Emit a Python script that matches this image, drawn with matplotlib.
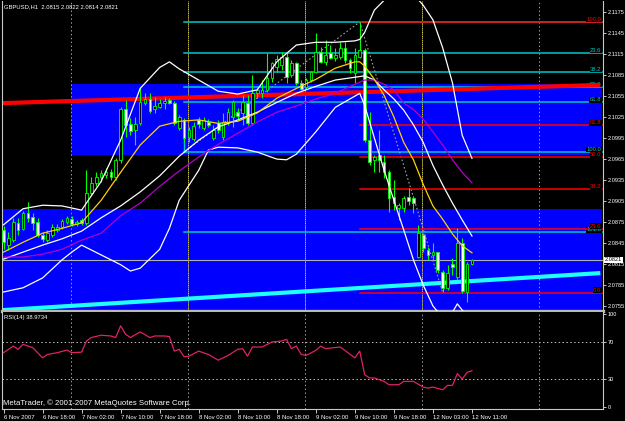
import matplotlib
matplotlib.use('Agg')
import matplotlib.pyplot as plt
import matplotlib.transforms as mtransforms
from matplotlib.patches import Rectangle

plt.rcParams['font.family'] = ['Liberation Sans', 'DejaVu Sans']

# GBPUSD H1 candles, first bar 6 Nov 2007 10:00
opens = [2.0864, 2.0842, 2.0849, 2.0874, 2.0865, 2.0888, 2.0882, 2.0875, 2.0856, 2.0849,
         2.0856, 2.0864, 2.0868, 2.0875, 2.0879, 2.0872, 2.0878, 2.0874, 2.0916, 2.0931,
         2.0939, 2.0942, 2.0946, 2.0939, 2.0964, 2.1036, 2.1015, 2.1006, 2.1016, 2.1045,
         2.1051, 2.1036, 2.1039, 2.1045, 2.1049, 2.1045, 2.1009, 2.1021, 2.0996, 2.0994,
         2.1021, 2.1009, 2.1018, 2.0995, 2.1016, 2.0996, 2.1016, 2.1025, 2.1032, 2.1031,
         2.1045, 2.1016, 2.1059, 2.1059, 2.1064, 2.1081, 2.1096, 2.1099, 2.1111, 2.1085,
         2.1102, 2.1074, 2.1068, 2.1078, 2.1089, 2.1118, 2.1104, 2.1116, 2.1109, 2.1111,
         2.1124, 2.1106, 2.1088, 2.1111, 2.1121, 2.0992, 2.0963, 2.0971, 2.0961, 2.0946,
         2.0911, 2.0895, 2.0895, 2.0911, 2.0909, 2.0825, 2.0856, 2.0835, 2.0828, 2.0832,
         2.0804, 2.0781, 2.0815, 2.0796, 2.0845, 2.0775, 2.0815]
highs = [2.0869, 2.0861, 2.0881, 2.0881, 2.0891, 2.0904, 2.0888, 2.0881, 2.0861, 2.0864,
         2.0872, 2.0872, 2.0879, 2.0884, 2.0884, 2.0878, 2.0881, 2.0949, 2.0939, 2.0946,
         2.0949, 2.0952, 2.0951, 2.0966, 2.1039, 2.1049, 2.1024, 2.1025, 2.1068, 2.1059,
         2.1059, 2.1054, 2.1051, 2.1054, 2.1052, 2.1048, 2.1028, 2.1024, 2.1011, 2.1018,
         2.1025, 2.1025, 2.1022, 2.1014, 2.1021, 2.1031, 2.1038, 2.1049, 2.1038, 2.1056,
         2.1056, 2.1085, 2.1066, 2.1078, 2.1116, 2.1104, 2.1114, 2.1118, 2.1116, 2.1106,
         2.1104, 2.1078, 2.1081, 2.1091, 2.1145, 2.1125, 2.1135, 2.1128, 2.1124, 2.1132,
         2.1132, 2.1109, 2.1124, 2.1161, 2.1124, 2.1032, 2.0971, 2.1006, 2.0971, 2.0949,
         2.0935, 2.0902, 2.0912, 2.0924, 2.0912, 2.0871, 2.0859, 2.0839, 2.0845, 2.0832,
         2.0806, 2.0814, 2.0824, 2.0866, 2.0852, 2.0818, 2.0822]
lows = [2.0836, 2.0835, 2.0846, 2.0856, 2.0864, 2.0875, 2.0864, 2.0854, 2.0846, 2.0846,
        2.0854, 2.0861, 2.0865, 2.0872, 2.0869, 2.0869, 2.0871, 2.0871, 2.0914, 2.0926,
        2.0932, 2.0938, 2.0935, 2.0935, 2.0959, 2.0996, 2.0999, 2.0985, 2.1014, 2.1042,
        2.1031, 2.1031, 2.1038, 2.1036, 2.1044, 2.1014, 2.1006, 2.0989, 2.0989, 2.0991,
        2.1009, 2.1006, 2.1011, 2.0992, 2.1002, 2.0992, 2.1014, 2.1011, 2.1021, 2.1014,
        2.1014, 2.1014, 2.1052, 2.1052, 2.1061, 2.1075, 2.1089, 2.1092, 2.1074, 2.1082,
        2.1071, 2.1064, 2.1065, 2.1075, 2.1088, 2.1102, 2.1099, 2.1108, 2.1105, 2.1108,
        2.1103, 2.1088, 2.1074, 2.1109, 2.0989, 2.0956, 2.0946, 2.0946, 2.0938, 2.0889,
        2.0892, 2.0878, 2.0889, 2.0899, 2.0888, 2.0824, 2.0832, 2.0821, 2.0821, 2.0802,
        2.0775, 2.0778, 2.0799, 2.0792, 2.0774, 2.0761, 2.0814]
closes = [2.0846, 2.0852, 2.0875, 2.0864, 2.0888, 2.0881, 2.0874, 2.0856, 2.0851, 2.0859,
          2.0868, 2.0868, 2.0876, 2.0881, 2.0872, 2.0875, 2.0874, 2.0916, 2.0931, 2.0939,
          2.0945, 2.0946, 2.0939, 2.0964, 2.1036, 2.1014, 2.1005, 2.1015, 2.1046, 2.1051,
          2.1034, 2.1041, 2.1045, 2.1048, 2.1045, 2.1016, 2.1025, 2.0995, 2.1006, 2.1012,
          2.1015, 2.1021, 2.1014, 2.1006, 2.1006, 2.1018, 2.1032, 2.1046, 2.1026, 2.1046,
          2.1016, 2.1059, 2.1064, 2.1064, 2.1081, 2.1102, 2.1108, 2.1111, 2.1082, 2.1102,
          2.1074, 2.1065, 2.1078, 2.1089, 2.1118, 2.1104, 2.1114, 2.1109, 2.1114, 2.1124,
          2.1106, 2.1095, 2.1114, 2.1121, 2.0992, 2.0961, 2.0968, 2.0964, 2.0946, 2.0909,
          2.0902, 2.0899, 2.0909, 2.0905, 2.0902, 2.0859, 2.0838, 2.0828, 2.0832, 2.0806,
          2.0781, 2.0802, 2.0811, 2.0845, 2.0776, 2.0815, 2.0821]

# Bollinger bands (white)
bb_up_bars = [0, 4, 8, 12, 16, 20, 24, 28, 32, 34, 36, 40, 44, 48, 52, 56, 60, 64, 68, 72, 73, 74,
              76, 78, 80, 82, 84, 86, 88, 90, 92, 94, 96]
bb_up = [2.0871, 2.0894, 2.0899, 2.0898, 2.0892, 2.0933, 2.0992, 2.1066, 2.1096, 2.1104, 2.1094,
         2.1078, 2.1062, 2.1058, 2.1064, 2.1104, 2.1128, 2.1132, 2.1132, 2.1134, 2.1136, 2.1146,
         2.1178, 2.1192, 2.1204, 2.1209, 2.1201, 2.1185, 2.1164, 2.1124, 2.1074, 2.0999, 2.0966]
bb_mid_bars = [0, 4, 8, 12, 16, 20, 24, 28, 32, 36, 40, 44, 48, 52, 56, 60, 64, 68, 72, 74, 76,
               78, 80, 82, 84, 86, 88, 90, 92, 94, 96]
bb_mid = [2.0822, 2.0832, 2.0842, 2.0851, 2.0862, 2.0881, 2.0898, 2.0918, 2.0941, 2.0969, 2.0992,
          2.1011, 2.1021, 2.1032, 2.1046, 2.1059, 2.1069, 2.1078, 2.1082, 2.1084, 2.1078, 2.1064,
          2.1051, 2.1035, 2.1014, 2.0989, 2.0956, 2.0928, 2.0902, 2.0878, 2.0855]
bb_lo_bars = [0, 4, 8, 12, 14, 16, 18, 20, 24, 26, 28, 32, 34, 36, 40, 42, 44, 48, 52, 56, 58,
              60, 64, 68, 72, 73, 74, 76, 78, 80, 82, 84, 86, 88, 90, 92, 93, 94, 96]
bb_lo = [2.0775, 2.0781, 2.0795, 2.0821, 2.0832, 2.0842, 2.0835, 2.0828, 2.0814, 2.0805, 2.0809,
         2.0836, 2.0866, 2.0906, 2.0949, 2.0978, 2.0982, 2.0981, 2.0975, 2.0965, 2.0964, 2.0972,
         2.1004, 2.1039, 2.1055, 2.1059, 2.1042, 2.0995, 2.0949, 2.0906, 2.0864, 2.0821, 2.0785,
         2.0755, 2.0738, 2.0746, 2.0758, 2.0749, 2.0735]

# moving averages: yellow (fast) and violet (slow)
ma_fast_bars = [0, 4, 8, 12, 16, 20, 24, 28, 32, 36, 40, 44, 48, 52, 56, 60, 64, 68, 72, 73, 74,
                76, 78, 80, 82, 84, 86, 88, 90, 92, 94, 96]
ma_fast = [2.0832, 2.0846, 2.0859, 2.0866, 2.0874, 2.0906, 2.0946, 2.0985, 2.1012, 2.1019, 2.1021,
           2.1016, 2.1019, 2.1031, 2.1052, 2.1066, 2.1079, 2.1095, 2.1104, 2.1104, 2.1098, 2.1079,
           2.1056, 2.1025, 2.0989, 2.0964, 2.0929, 2.0898, 2.0879, 2.0858, 2.0841, 2.0831]
ma_slow_bars = [0, 4, 8, 12, 16, 20, 24, 28, 32, 36, 40, 44, 48, 52, 56, 60, 64, 68, 72, 74, 76,
                78, 80, 82, 84, 86, 88, 90, 92, 94, 96]
ma_slow = [2.0825, 2.0825, 2.0829, 2.0836, 2.0849, 2.0859, 2.0884, 2.0902, 2.0926, 2.0948, 2.0968,
           2.0986, 2.1002, 2.1018, 2.1032, 2.1041, 2.1051, 2.1059, 2.1072, 2.1078, 2.1078, 2.1072,
           2.1064, 2.1045, 2.1036, 2.1022, 2.1004, 2.0985, 2.0964, 2.0946, 2.0931]

# RSI(14)
rsi_bars = [0, 2, 3, 4, 6, 8, 9, 11, 13, 14, 16, 17, 18, 20, 22, 23, 24, 25, 26, 28,
            30, 31, 33, 34, 35, 36, 37, 38, 40, 42, 44, 46, 48, 49, 50, 51, 53, 55, 57, 58,
            59, 60, 61, 62, 64, 65, 66, 67, 69, 72, 73, 74, 75, 76, 78, 79, 81, 82, 84, 86,
            87, 88, 90, 91, 92, 93, 94, 95, 96]
rsi_vals = [58.4, 65.5, 62.0, 67.4, 63.8, 52.9, 56.5, 58.4, 61.2, 58.4, 59.0, 71.0, 74.7, 77.2,
            76.4, 74.7, 87.3, 78.3, 74.7, 80.8, 74.7, 76.4, 76.4, 75.8, 60.1, 62.0, 54.0, 54.7,
            60.1, 56.5, 50.3, 55.4, 62.0, 62.7, 54.7, 64.5, 64.5, 69.9, 71.0, 72.8, 62.7, 65.5,
            56.5, 55.4, 60.9, 65.5, 62.7, 63.4, 64.5, 52.9, 60.1, 34.8, 31.2, 31.2, 27.5, 23.9,
            23.9, 27.5, 27.5, 21.4, 20.3, 21.4, 18.5, 23.2, 23.2, 35.9, 30.1, 37.3, 38.97]

time_bars = [0, 8, 16, 24, 32, 40, 48, 56, 64, 72, 80, 88, 96]
time_labels = ['6 Nov 2007', '6 Nov 18:00', '7 Nov 02:00', '7 Nov 10:00', '7 Nov 18:00',
               '8 Nov 02:00', '8 Nov 10:00', '8 Nov 18:00', '9 Nov 02:00', '9 Nov 10:00',
               '9 Nov 18:00', '12 Nov 03:00', '12 Nov 11:00']
price_ticks = [2.1175, 2.1145, 2.1115, 2.1085, 2.1055, 2.1025, 2.0995, 2.0965, 2.0935,
               2.0905, 2.0875, 2.0845, 2.0815, 2.0785, 2.0755]

# drawn objects: boxes (bar from, bar to, price low, price high), trend lines, fibos
blue_boxes = [(13.8, 122.6, 2.0971, 2.1072), (-1.0, 122.6, 2.0700, 2.0894)]
red_trend = [(-0.3, 122.3), (2.1045, 2.1071)]
cyan_trend = [(-0.3, 122.3), (2.0749, 2.0802)]
fib_levels = [0.0, 23.6, 38.2, 50.0, 61.8, 100.0, 161.8]
cyan_fib = (37, 2.0975, 73, 2.1161)
red_fib = (73, 2.1161, 90, 2.0774)
bid = 2.0821

XL, XR = -0.31, 122.85
grid_bars = [13.8, 37.8, 61.8, 85.8, 109.8]
sep_bars = [37.8, 61.8, 85.8]

fig = plt.figure(figsize=(6.25, 4.21), dpi=100, facecolor='black')
ax = fig.add_axes([2 / 625, 110 / 421, 601 / 625, 310 / 421])
ax2 = fig.add_axes([2 / 625, 12 / 421, 601 / 625, 97 / 421])

for a in (ax, ax2):
    a.set_facecolor('black')
    a.set_xlim(XL, XR)
    for s in a.spines.values():
        s.set_color('#C8C8C8')
        s.set_linewidth(0.8)
    a.spines['top'].set_visible(False)
    for b in grid_bars:
        a.axvline(b, color='#A0A0A0', lw=0.7, ls=(0, (1.5, 2.5)), zorder=1)

ax.set_ylim(2.07478, 2.1191)
ax.spines['bottom'].set_linewidth(2.4)
ax.spines['bottom'].set_color('#B8B8B8')

for x0, x1, p0, p1 in blue_boxes:
    ax.add_patch(Rectangle((x0, p0), x1 - x0, p1 - p0, facecolor='#0000FF', edgecolor='none', zorder=0.5))

for b in sep_bars:
    ax.axvline(b, color='#E8D000', lw=0.7, ls=(2, (1.5, 2.5)), zorder=1.1)

# fibonacci retracements
def draw_fib(f, color, zo):
    b1, p1, b2, p2 = f
    ax.plot([b1, b2], [p1, p2], color='#A0A0A0', lw=0.8, ls=(0, (1.5, 2)), zorder=zo)
    for r in fib_levels:
        lev = p2 + (p1 - p2) * r / 100.0
        if not (2.0748 < lev < 2.1191):
            continue
        ax.plot([b1, 122.6], [lev, lev], color=color, lw=1.1, zorder=zo)
        ax.text(122.5, lev, f'{r:.1f}', color=color, fontsize=4.2, ha='right', va='bottom',
                zorder=zo + 0.05, bbox=dict(facecolor='black', edgecolor='none', pad=0.3))

draw_fib(cyan_fib, '#00C8C8', 2.0)
ax.plot([cyan_fib[0], cyan_fib[0]], [cyan_fib[1], 2.1021], color='#00C8C8', lw=1.0, zorder=2.0)
draw_fib(red_fib, '#FF0000', 2.2)

ax.axhline(bid, color='#B0B0B0', lw=0.8, zorder=2.3)

ax.plot(*red_trend, color='#FF0000', lw=3.0, solid_capstyle='butt', zorder=2.5)
ax.plot(*cyan_trend, color='#20FFFF', lw=3.0, solid_capstyle='butt', zorder=2.5)

# candles
idx = list(range(len(opens)))
ax.vlines(idx, lows, highs, color='#00FF00', lw=0.8, zorder=3)
for i in idx:
    o, c = opens[i], closes[i]
    bull = c >= o
    ax.bar(i, max(abs(c - o), 0.00004), bottom=min(o, c), width=0.55,
           color='black' if bull else 'white', edgecolor='#00FF00', linewidth=0.6, zorder=3.1)

# indicators
ax.plot(bb_up_bars, bb_up, color='white', lw=0.9, zorder=4)
ax.plot(bb_mid_bars, bb_mid, color='white', lw=0.9, zorder=4)
ax.plot(bb_lo_bars, bb_lo, color='white', lw=0.9, zorder=4)
ax.plot(ma_slow_bars, ma_slow, color='#B400C8', lw=0.9, zorder=4)
ax.plot(ma_fast_bars, ma_fast, color='#FFD200', lw=0.9, zorder=4)

ax.yaxis.tick_right()
ax.set_yticks(price_ticks)
ax.set_yticklabels([f'{p:.4f}' for p in price_ticks])
ax.tick_params(axis='y', colors='#C8C8C8', labelcolor='white', labelsize=4.1, length=2, width=0.7, pad=1.2)
ax.set_xticks([])

trans = mtransforms.blended_transform_factory(ax.transAxes, ax.transData)
ax.text(1.003, bid, f'{bid:.4f}', transform=trans, fontsize=4.1, color='black', ha='left', va='center',
        zorder=6, bbox=dict(facecolor='white', edgecolor='none', pad=0.5), clip_on=False)

# RSI panel
ax2.set_ylim(-2.2, 102.2)
for lvl in (70, 30):
    ax2.axhline(lvl, color='#C0C0C0', lw=0.7, ls=(0, (1.5, 2.5)), zorder=1)
ax2.plot(rsi_bars, rsi_vals, color='#E0206A', lw=0.9, zorder=3)
ax2.yaxis.tick_right()
ax2.set_yticks([100, 70, 30, 0])
ax2.set_yticklabels(['100', '70', '30', '0'])
ax2.tick_params(axis='y', colors='#C8C8C8', labelcolor='white', labelsize=4.1, length=2, width=0.7, pad=1.2)
ax2.set_xticks(time_bars)
ax2.set_xticklabels(time_labels)
ax2.tick_params(axis='x', colors='#C8C8C8', labelcolor='white', labelsize=4.3, length=3, width=0.7, pad=1)
for t in ax2.get_xticklabels():
    t.set_ha('left')

fig.text(4 / 625, 1 - 7 / 421, 'GBPUSD,H1  2.0815 2.0822 2.0814 2.0821', color='white',
         fontsize=4.2, ha='left', va='center')
fig.text(4 / 625, 1 - 317 / 421, 'RSI(14) 38.9734', color='white', fontsize=4.2, ha='left', va='center')
fig.text(3 / 625, 1 - 403 / 421, 'MetaTrader, \u00a9 2001-2007 MetaQuotes Software Corp.', color='white',
         fontsize=5.6, ha='left', va='center')

fig.savefig('out.png', dpi=100, facecolor='black')
